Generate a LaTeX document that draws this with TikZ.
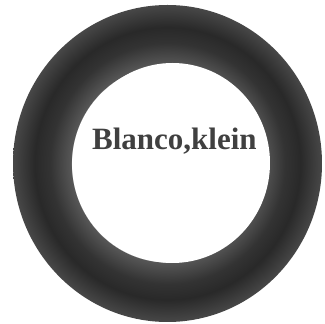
\documentclass[tikz,border=0pt]{standalone}
\usepackage{fontspec}
\setmainfont{Liberation Serif}
\pgfdeclareradialshading{ringshade}{\pgfpointorigin}{%
  color(0bp)=(white);
  color(15.5bp)=(white);
  color(15.6bp)=(black!66);
  color(19bp)=(black!80);
  color(21.5bp)=(black!84);
  color(25bp)=(black!72);
  color(50bp)=(black!72)}
\tikzset{
  ringfill/.style={shading=ringshade},
  hole/.style={fill=white},
  label/.style={font=\bfseries\fontsize{31}{31}\selectfont, text=black!75, inner sep=0pt, anchor=base west}
}
\begin{document}
\begin{tikzpicture}[x=1pt,y=1pt]
\useasboundingbox (0,0) rectangle (325,324);
\fill[white] (0,0) rectangle (325,324);
\shade[ringfill] (167.5,160.5) ellipse [x radius=154.5, y radius=158.5];
\fill[hole] (172.5,161) ellipse [x radius=97.5, y radius=100];
\node[label] (t) at (92,174) {Blanco,klein};
\end{tikzpicture}
\end{document}
